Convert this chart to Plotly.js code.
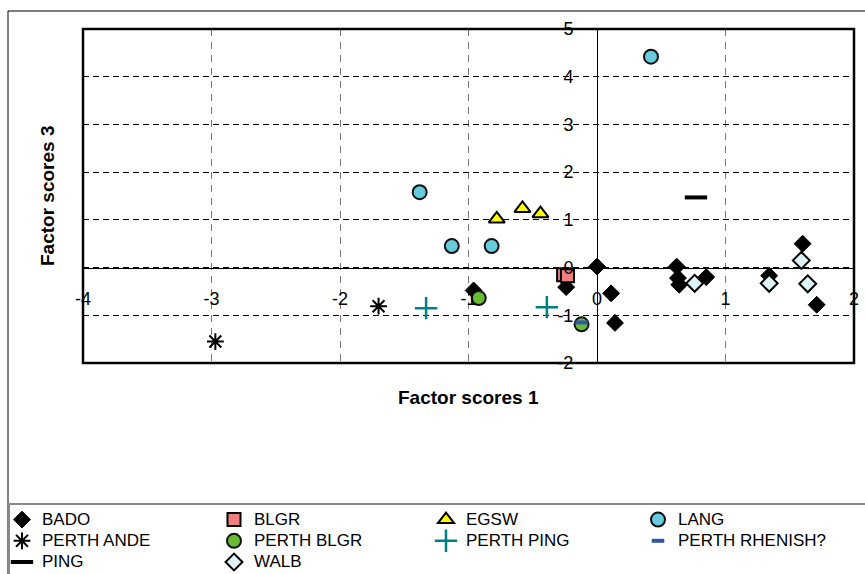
<!DOCTYPE html>
<html><head><meta charset="utf-8">
<script src="https://cdn.plot.ly/plotly-3.0.1.min.js"></script>
<style>html,body{margin:0;padding:0;background:#fff;}#chart{width:865px;height:574px;}</style>
</head><body><div id="chart"></div>
<script>
// Data
var badoX = [0.00, 0.11, 0.14, -0.24, -0.96, 0.62, 0.63, 0.64, 0.85, 1.34, 1.60, 1.71];
var badoY = [0.02, -0.54, -1.16, -0.41, -0.48, 0.02, -0.22, -0.36, -0.20, -0.17, 0.50, -0.78];
var blgrX = [-0.26, -0.23];
var blgrY = [-0.15, -0.17];
var egswX = [-0.78, -0.58, -0.44];
var egswY = [1.02, 1.24, 1.13];
var langX = [-1.38, -1.13, -0.82, 0.42];
var langY = [1.58, 0.45, 0.45, 4.42];
var ptAndeX = [-1.70, -2.97];
var ptAndeY = [-0.81, -1.55];
var ptBlgrX = [-0.92, -0.12];
var ptBlgrY = [-0.64, -1.19];
var ptPingX = [-1.33, -0.39];
var ptPingY = [-0.85, -0.83];
var ptRhenX = [-0.12];
var ptRhenY = [-1.15];
var pingX = [0.77];
var pingY = [1.47];
var walbX = [0.76, 1.34, 1.59, 1.64];
var walbY = [-0.33, -0.33, 0.15, -0.34];
var xTicks = [-4, -3, -2, -1, 0, 1, 2];
var yTicks = [-2, -1, 0, 1, 2, 3, 4, 5];

var FONT = 'Liberation Sans, Arial, sans-serif';
function tr(name, x, y, marker) {
  return {type: 'scatter', mode: 'markers', name: '<span style="font-size:17px">' + name + '</span>',
          x: x, y: y, marker: marker, cliponaxis: false};
}
var data = [
  tr('BADO', badoX, badoY, {symbol: 'diamond', size: 13, color: '#000', line: {color: '#000', width: 1}}),
  tr('BLGR', blgrX, blgrY, {symbol: 'square', size: 13, color: '#F08080', line: {color: '#000', width: 2}}),
  tr('EGSW', egswX, egswY, {symbol: 'triangle-up', size: 14, color: '#FFFF00', line: {color: '#000', width: 2}}),
  tr('LANG', langX, langY, {symbol: 'circle', size: 14, color: '#66CCDD', line: {color: '#111', width: 2}}),
  tr('PERTH ANDE', ptAndeX, ptAndeY, {symbol: 'asterisk-open', size: 14, color: '#000', line: {color: '#000', width: 2}}),
  tr('PERTH BLGR', ptBlgrX, ptBlgrY, {symbol: 'circle', size: 14, color: '#66BB33', line: {color: '#111', width: 2}}),
  tr('PERTH PING', ptPingX, ptPingY, {symbol: 'cross-thin-open', size: 16, color: '#008080', line: {color: '#008080', width: 2.5}}),
  tr('PERTH RHENISH?', ptRhenX, ptRhenY, {symbol: 'line-ew-open', size: 9, color: '#3355AA', line: {color: '#3355AA', width: 4}}),
  tr('PING', pingX, pingY, {symbol: 'line-ew-open', size: 16, color: '#000', line: {color: '#000', width: 4}}),
  tr('WALB', walbX, walbY, {symbol: 'diamond', size: 13, color: '#DDF3F8', line: {color: '#000', width: 2}})
];

var L = 83, R = 11, T = 29, B = 211, W = 865, H = 574;
var pw = W - L - R, ph = H - T - B;
function px2x(p) { return (p - L) / pw; }
function px2y(p) { return (H - B - p) / ph; }

var layout = {
  width: W, height: H,
  margin: {l: L, r: R, t: T, b: B, pad: 0, autoexpand: false},
  paper_bgcolor: '#fff', plot_bgcolor: '#fff',
  font: {family: FONT, size: 18, color: '#000'},
  showlegend: true,
  xaxis: {
    range: [-4, 2], tickvals: xTicks, ticktext: xTicks.map(String),
    anchor: 'free', position: 2/7, automargin: false,
    showline: true, linecolor: '#000', linewidth: 1,
    zeroline: false, ticks: '', ticklabelstandoff: 15,
    showgrid: true, gridcolor: '#777', griddash: '7px,6px', gridwidth: 1,
    tickfont: {family: FONT, size: 18, color: '#000'}
  },
  yaxis: {
    range: [-2, 5], tickvals: yTicks, ticktext: yTicks.map(String),
    anchor: 'free', position: 4/6, automargin: false,
    showline: true, linecolor: '#000', linewidth: 1,
    zeroline: false, ticks: '', ticklabelstandoff: 20,
    showgrid: true, gridcolor: '#000', griddash: '6px,4px', gridwidth: 1,
    tickfont: {family: FONT, size: 18, color: '#000'}
  },
  annotations: [
    {xref: 'paper', yref: 'paper', x: 0.5, y: px2y(397), text: '<b>Factor scores 1</b>', showarrow: false,
     font: {family: FONT, size: 19, color: '#000'}, xanchor: 'center', yanchor: 'middle'},
    {xref: 'paper', yref: 'paper', x: px2x(47), y: 0.5, text: '<b>Factor scores 3</b>', showarrow: false, textangle: -90,
     font: {family: FONT, size: 19, color: '#000'}, xanchor: 'center', yanchor: 'middle'}
  ],
  shapes: [
    {type: 'rect', xref: 'paper', yref: 'paper', x0: px2x(8), x1: px2x(870), y0: px2y(580), y1: px2y(11),
     line: {color: '#000', width: 1}, layer: 'below'},
    {type: 'rect', xref: 'paper', yref: 'paper', x0: px2x(9), x1: px2x(870), y0: px2y(580), y1: px2y(504),
     line: {color: '#888', width: 2}, layer: 'below'},
    {type: 'rect', xref: 'paper', yref: 'paper', x0: 0, x1: 1, y0: 0, y1: 1,
     line: {color: '#000', width: 2.5}, layer: 'above'}
  ],
  legend: {
    orientation: 'h', x: px2x(2), xanchor: 'left', y: px2y(504), yanchor: 'top',
    entrywidth: 167, entrywidthmode: 'pixels', itemwidth: 30,
    font: {family: FONT, size: 14, color: '#000'},
    bgcolor: 'rgba(0,0,0,0)', borderwidth: 0, tracegroupgap: 0
  }
};
Plotly.newPlot('chart', data, layout, {displayModeBar: false, staticPlot: true});
</script></body></html>
